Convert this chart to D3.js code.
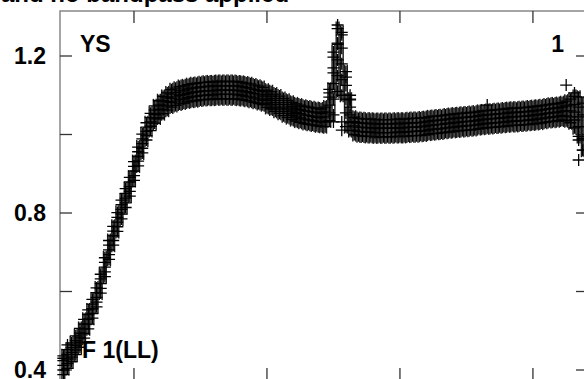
<!DOCTYPE html>
<html>
<head>
<meta charset="utf-8">
<script src="https://cdn.jsdelivr.net/npm/d3@7"></script>
<style>
	body { margin: 0; background: #fff; }
	svg { display: block; font-family: "Liberation Sans", Arial, sans-serif; font-weight: bold; }
</style>
</head>
<body>
<svg id="chart" width="584" height="379"></svg>
<script>
// channel numbers 1..126
const channels = d3.range(1, 127)

// amplitude per channel
const amp = [
	0.412, 0.428, 0.445, 0.463, 0.482, 0.505, 0.529, 0.556, 0.585, 0.620,
	0.662, 0.706, 0.742, 0.777, 0.809, 0.838, 0.867, 0.907, 0.944, 0.977,
	1.008, 1.032, 1.051, 1.064, 1.075, 1.084, 1.092, 1.096, 1.100, 1.102,
	1.105, 1.107, 1.108, 1.110, 1.111, 1.112, 1.112, 1.113, 1.113, 1.113,
	1.113, 1.113, 1.112, 1.111, 1.109, 1.107, 1.104, 1.101, 1.098, 1.091,
	1.087, 1.081, 1.076, 1.070, 1.065, 1.060, 1.056, 1.053, 1.050, 1.048,
	1.046, 1.044, 1.043, 1.045, 1.075, 1.130, 1.190, 1.180, 1.090, 1.050,
	1.022, 1.019, 1.018, 1.017, 1.017, 1.016, 1.016, 1.016, 1.016, 1.016,
	1.017, 1.017, 1.017, 1.018, 1.019, 1.019, 1.020, 1.021, 1.023, 1.024,
	1.025, 1.026, 1.028, 1.029, 1.030, 1.031, 1.032, 1.033, 1.034, 1.035,
	1.037, 1.038, 1.039, 1.040, 1.041, 1.042, 1.043, 1.044, 1.045, 1.045,
	1.046, 1.047, 1.048, 1.049, 1.050, 1.051, 1.053, 1.055, 1.056, 1.057,
	1.059, 1.060, 1.060, 1.057, 1.045, 1.020
]

// half spread of the samples in each channel
const spread = [
	0.024, 0.024, 0.024, 0.024, 0.024, 0.024, 0.024, 0.024, 0.024, 0.024,
	0.024, 0.024, 0.024, 0.024, 0.024, 0.024, 0.024, 0.024, 0.024, 0.024,
	0.022, 0.022, 0.022, 0.022, 0.022, 0.022, 0.022, 0.022, 0.022, 0.022,
	0.022, 0.022, 0.022, 0.022, 0.022, 0.022, 0.022, 0.022, 0.022, 0.022,
	0.022, 0.022, 0.022, 0.022, 0.022, 0.022, 0.022, 0.022, 0.022, 0.022,
	0.022, 0.022, 0.022, 0.022, 0.022, 0.022, 0.022, 0.022, 0.022, 0.022,
	0.022, 0.022, 0.022, 0.025, 0.040, 0.080, 0.080, 0.080, 0.070, 0.040,
	0.022, 0.022, 0.022, 0.022, 0.022, 0.022, 0.022, 0.022, 0.022, 0.022,
	0.022, 0.022, 0.022, 0.022, 0.022, 0.022, 0.022, 0.022, 0.022, 0.022,
	0.022, 0.022, 0.022, 0.022, 0.022, 0.022, 0.022, 0.022, 0.022, 0.022,
	0.022, 0.022, 0.022, 0.022, 0.022, 0.022, 0.022, 0.022, 0.022, 0.022,
	0.022, 0.022, 0.022, 0.022, 0.022, 0.022, 0.022, 0.022, 0.022, 0.022,
	0.022, 0.025, 0.030, 0.040, 0.050, 0.060
]

// stray points outside the band
const extraChan = [1, 2, 65, 66, 66, 67, 67, 68, 68, 69, 70, 70, 66, 68, 103, 122, 124, 125, 125, 126]
const extraAmp = [0.430, 0.464, 1.106, 1.157, 1.197, 1.279, 1.233, 1.254, 1.032, 1.146, 1.100, 1.088, 1.032, 1.011, 1.075, 1.126, 1.106, 0.986, 0.935, 0.960]

// sample levels inside each channel, as fractions of the spread
const sampleLevels = [-1, -0.5, 0, 0.5, 1]

const yTicks = [0.4, 0.6, 0.8, 1.0, 1.2]
const yLabels = [0.4, 0.8, 1.2]
const xTicks = [18, 50, 82, 114]

const title = "and no bandpass applied"
const sourceLabel = "YS"
const panelLabel = "1"
const polLabel = "F 1(LL)"

const frame = { left: 60, right: 588, top: 11, bottom: 380 }
const tickLen = 12

const svg = d3.select("#chart")

const x = d3.scaleLinear().domain([0.2, 127.25]).range([frame.left, frame.right])
const y = d3.scaleLinear().domain([0.4, 1.2]).range([370, 56])

// frame
svg.append("rect")
	.attr("x", frame.left)
	.attr("y", frame.top)
	.attr("width", frame.right - frame.left)
	.attr("height", frame.bottom - frame.top)
	.attr("fill", "none")
	.attr("stroke", "#888")
	.attr("stroke-width", 1.5)

const ticks = svg.append("g").attr("stroke", "#333").attr("stroke-width", 1.3)

xTicks.forEach(t => {
	ticks.append("line").attr("x1", x(t)).attr("x2", x(t)).attr("y1", frame.top).attr("y2", frame.top + tickLen)
	ticks.append("line").attr("x1", x(t)).attr("x2", x(t)).attr("y1", frame.bottom).attr("y2", frame.bottom - tickLen)
})
yTicks.forEach(t => {
	ticks.append("line").attr("x1", frame.left).attr("x2", frame.left + tickLen).attr("y1", y(t)).attr("y2", y(t))
	ticks.append("line").attr("x1", frame.right).attr("x2", frame.right - tickLen).attr("y1", y(t)).attr("y2", y(t))
})

svg.append("g")
	.selectAll("text")
	.data(yLabels)
	.enter()
	.append("text")
	.attr("x", 46)
	.attr("y", d => y(d) + 8)
	.attr("text-anchor", "end")
	.attr("font-size", 23)
	.text(d => d3.format(".1f")(d))

// sample spread as vertical strokes
const data = channels.map((c, i) => ({ c, v: amp[i], s: spread[i] }))

const strokes = svg.append("g").attr("stroke", "#1a1a1a").attr("stroke-width", 1.4)
data.forEach(d => {
	;[-1.4, 1.4].forEach(dx => {
		strokes.append("line")
			.attr("x1", x(d.c) + dx)
			.attr("x2", x(d.c) + dx)
			.attr("y1", y(d.v - d.s) + 7)
			.attr("y2", y(d.v + d.s) - 7)
	})
})

const cross = "M-6,0H6M0,-6V6"
const crossPoints = []
data.forEach(d => sampleLevels.forEach(k => crossPoints.push([d.c, d.v + k * d.s])))
extraChan.forEach((c, i) => crossPoints.push([c, extraAmp[i]]))

svg.append("g")
	.attr("stroke", "#000")
	.attr("stroke-width", 1.3)
	.attr("fill", "none")
	.selectAll("path")
	.data(crossPoints)
	.enter()
	.append("path")
	.attr("transform", d => `translate(${x(d[0])},${y(d[1])})`)
	.attr("d", cross)

// labels
svg.append("text").attr("x", 1).attr("y", 2).attr("font-size", 24).text(title)
svg.append("text").attr("x", 80).attr("y", 52).attr("font-size", 23).text(sourceLabel)
svg.append("text").attr("x", 564).attr("y", 52).attr("text-anchor", "end").attr("font-size", 23).text(panelLabel)
svg.append("text").attr("x", 82).attr("y", 358).attr("font-size", 23).text(polLabel)
</script>
</body>
</html>
